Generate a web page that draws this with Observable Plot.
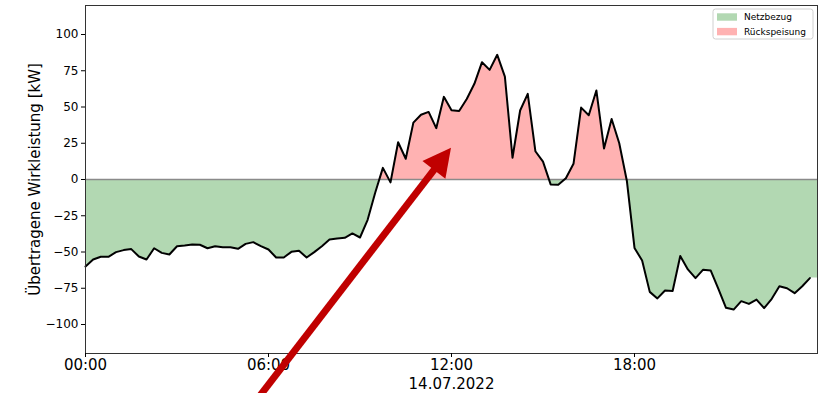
<!DOCTYPE html>
<html><head><meta charset="utf-8">
<script src="https://cdn.jsdelivr.net/npm/d3@7"></script>
<script src="https://cdn.jsdelivr.net/npm/@observablehq/plot@0.6"></script>
<style>body{margin:0;background:#fff} #chart{width:828px;height:393px}</style>
</head><body><div id="chart"></div>
<script>
// ---- data ----
const dateLabel = "14.07.2022";
const startTime = "2022-07-14T00:00:00Z";
const endTime = "2022-07-15T00:00:00Z";
const stepMinutes = 15;
// transferred active power [kW], one value per 15 minutes, 00:00 .. 23:45
const power = [
  -60, -55.2, -53.3, -53.3, -50.1, -48.7, -48, -53.1, -55.2, -47.4, -50.6, -51.7,
  -46, -45.5, -44.8, -45, -47.4, -46, -46.7, -46.7, -47.8, -44.4, -43.2, -46,
  -48.3, -53.8, -53.8, -49.9, -49.2, -53.8, -50.1, -46, -41.4, -40.7, -40.2, -37.2,
  -40, -27.8, -9, 8, -2, 25.7, 14.3, 39.2, 44.7, 46.6, 35.4, 57,
  47.8, 47.3, 55.5, 66, 80.9, 75.6, 86, 71, 15, 47.6, 59.1, 19.5,
  12.3, -3.4, -3.7, 0.8, 10.8, 49.6, 44.3, 61.4, 21.4, 41.7, 25, -1,
  -47.2, -55.9, -77.5, -82, -76.6, -76.9, -52.7, -62, -68, -62.2, -62.8, -75.4,
  -88.5, -89.7, -83.9, -85.8, -82.8, -88.7, -82.3, -73.6, -75, -78.4, -73.6, -68
];
const seriesNames = ["Netzbezug", "Rückspeisung"];
const seriesColors = ["#b2d8b2", "#ffb2b2"];
const xTickLabels = ["00:00", "06:00", "12:00", "18:00"];
const yTicks = [-100, -75, -50, -25, 0, 25, 50, 75, 100];
const yDomain = [-120, 120];
const yLabel = "Übertragene Wirkleistung [kW]";
const arrowTail = {time: "05:21", value: -160};
const arrowTip = {time: "12:00", value: 21.6};

// ---- helpers ----
const t0 = new Date(startTime);
const tEnd = new Date(endTime);
const at = hhmm => { const [h, m] = hhmm.split(":").map(Number); return new Date(t0.getTime() + (h * 60 + m) * 60000); };
const rows = power.map((v, i) => ({t: new Date(t0.getTime() + i * stepMinutes * 60000), v}));

// fill rows: insert zero crossings, extend last value to end of day
const fillRows = [];
rows.forEach((d, i) => {
  if (i > 0) {
    const p = rows[i - 1];
    if ((p.v < 0 && d.v > 0) || (p.v > 0 && d.v < 0)) {
      const f = p.v / (p.v - d.v);
      fillRows.push({t: new Date(p.t.getTime() + f * (d.t - p.t)), v: 0});
    }
  }
  fillRows.push(d);
});
fillRows.push({t: tEnd, v: rows[rows.length - 1].v});

const fmtNum = d => d < 0 ? "\u2212" + Math.abs(d) : String(d);

const arrowMark = (index, scales) => {
  const x0 = scales.x(at(arrowTail.time)), y0 = scales.y(arrowTail.value);
  const x1 = scales.x(at(arrowTip.time)), y1 = scales.y(arrowTip.value);
  const dx = x1 - x0, dy = y1 - y0, L = Math.hypot(dx, dy), ux = dx / L, uy = dy / L;
  const headLen = 28, headW = 29, shaftW = 7;
  const bx = x1 - ux * headLen, by = y1 - uy * headLen;
  const px = -uy, py = ux;
  const g = d3.create("svg:g");
  g.append("line").attr("x1", x0).attr("y1", y0).attr("x2", bx + ux * 2).attr("y2", by + uy * 2)
    .attr("stroke", "#c00000").attr("stroke-width", shaftW);
  g.append("polygon").attr("fill", "#c00000")
    .attr("points", `${x1},${y1} ${bx + px * headW / 2},${by + py * headW / 2} ${bx - px * headW / 2},${by - py * headW / 2}`);
  return g.node();
};

const legendMark = (index, scales, values, dims) => {
  const right = dims.width - dims.marginRight - 4, top = dims.marginTop + 4;
  const w = 100, h = 30;
  const g = d3.create("svg:g").attr("font-family", "DejaVu Sans").attr("font-size", 9)
    .attr("text-anchor", "start");
  g.append("rect").attr("x", right - w).attr("y", top).attr("width", w).attr("height", h)
    .attr("rx", 2.5).attr("fill", "white").attr("fill-opacity", 0.8).attr("stroke", "#d0d0d0");
  seriesNames.forEach((name, i) => {
    const cy = top + 8 + i * 14.6;
    g.append("rect").attr("x", right - w + 4).attr("y", cy - 3.7).attr("width", 20).attr("height", 7.4)
      .attr("fill", seriesColors[i]);
    g.append("text").attr("x", right - w + 31).attr("y", cy).attr("dy", "0.35em")
      .attr("text-anchor", "start").attr("fill", "black").text(name);
  });
  return g.node();
};

const chart = Plot.plot({
  width: 828, height: 393,
  marginLeft: 85, marginRight: 11, marginTop: 5, marginBottom: 40,
  style: {fontFamily: "DejaVu Sans", background: "white", color: "black"},
  x: {type: "utc", domain: [t0, tEnd]},
  y: {domain: yDomain},
  marks: [
    Plot.areaY(fillRows, {x: "t", y1: 0, y2: d => Math.min(0, d.v), fill: seriesColors[0]}),
    Plot.areaY(fillRows, {x: "t", y1: 0, y2: d => Math.max(0, d.v), fill: seriesColors[1]}),
    Plot.ruleY([0], {stroke: "#8a8a8a", strokeWidth: 1.5}),
    Plot.line(rows, {x: "t", y: "v", stroke: "black", strokeWidth: 2}),
    Plot.frame({stroke: "#333"}),
    Plot.axisY(yTicks, {tickSize: 4, tickPadding: 3, fontSize: 12, label: null, tickFormat: fmtNum}),
    Plot.axisX(xTickLabels.map(at), {tickSize: 4, tickPadding: 2, fontSize: 15, label: null, tickFormat: d3.utcFormat("%H:%M")}),
    Plot.text([dateLabel], {x: at("12:00"), frameAnchor: "bottom", lineAnchor: "middle", dy: 31, fontSize: 15, fill: "black"}),
    Plot.text([yLabel], {frameAnchor: "left", textAnchor: "middle", lineAnchor: "middle", dx: -50, rotate: -90, fontSize: 15, fill: "black"}),
    arrowMark,
    legendMark
  ]
});
document.getElementById("chart").appendChild(chart);
</script>
</body></html>
